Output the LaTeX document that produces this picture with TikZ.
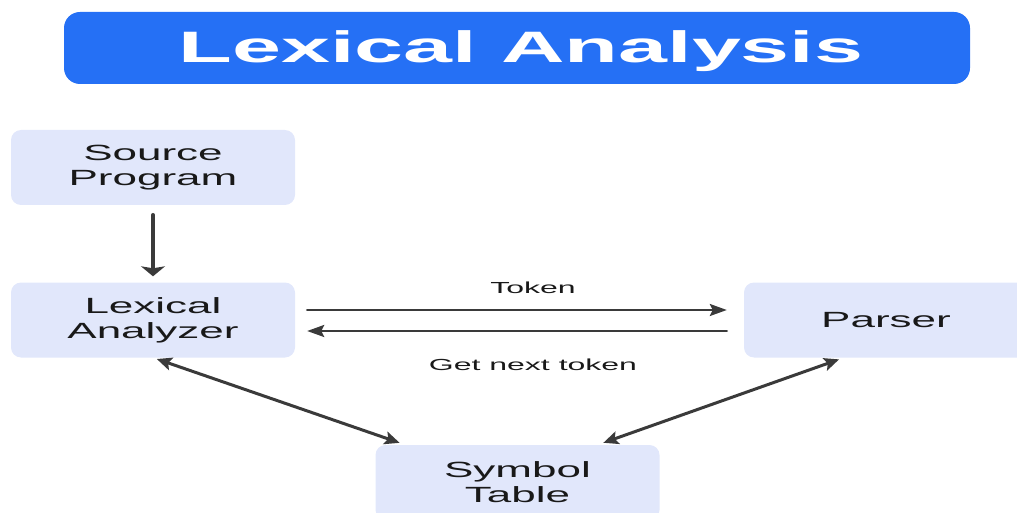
\documentclass[tikz,border=0pt]{standalone}
\usepackage{fontspec}
\newfontfamily\wideface[FakeStretch=2.0]{Liberation Sans}
\usetikzlibrary{arrows.meta}
\definecolor{titleblue}{RGB}{37,112,245}
\definecolor{boxfill}{RGB}{225,231,251}
\definecolor{arrowgray}{RGB}{58,58,58}
\begin{document}
\begin{tikzpicture}[x=1pt,y=-1pt,line cap=round,line join=round,
  stage/.style={rectangle,rounded corners=10pt,fill=boxfill,minimum width=284pt,minimum height=75pt,inner sep=0pt,align=center,text=black!90,font=\wideface\fontsize{22}{25}\selectfont},
  flowlabel/.style={text=black!90,font=\wideface\fontsize{16}{18}\selectfont},
  flow/.style={draw=arrowgray,line width=2.6pt,-{Stealth[length=17pt,width=12pt,inset=3pt]}},
  down/.style={draw=arrowgray,line width=4.5pt,-{Stealth[length=10pt,width=24pt,inset=2pt]}},
  both/.style={draw=arrowgray,line width=3pt,{Stealth[length=15pt,width=13pt,inset=3pt]}-{Stealth[length=15pt,width=13pt,inset=3pt]}}]
\useasboundingbox (0,0) rectangle (1017,513);
\clip (0,0) rectangle (1017,513);
% title bar
\node[rectangle,rounded corners=16pt,fill=titleblue,minimum width=906pt,minimum height=72pt,inner sep=0pt] (title) at (517,48) {};
\node[text=white,font=\wideface\bfseries\fontsize{44}{48}\selectfont] (titletext) at (521,51) {Lexical Analysis};
% boxes
\node[stage] (src) at (153,167.5) {Source\\Program};
\node[stage] (lex) at (153,320) {Lexical\\Analyzer};
\node[stage] (parser) at (886,320) {Parser};
\node[stage] (symtab) at (517.5,482.5) {Symbol\\Table};
% arrows
\draw[down,shorten <=10pt,shorten >=6pt] (src.south) -- (lex.north);
\draw[flow,shorten <=12pt,shorten >=17pt] ([yshift=10pt]lex.east) -- ([yshift=10pt]parser.west);
\draw[flow,shorten <=17pt,shorten >=12pt] ([yshift=-11pt]parser.west) -- ([yshift=-11pt]lex.east);
\node[flowlabel] (tok) at (533,288) {Token};
\node[flowlabel] (nxt) at (533,365) {Get next token};
\draw[both,shorten <=4pt,shorten >=6pt] (lex.south) -- ([xshift=30pt]symtab.north west);
\draw[both,shorten <=6pt,shorten >=5pt] ([xshift=-62pt]symtab.north east) -- ([xshift=100pt]parser.south west);
\end{tikzpicture}
\end{document}
